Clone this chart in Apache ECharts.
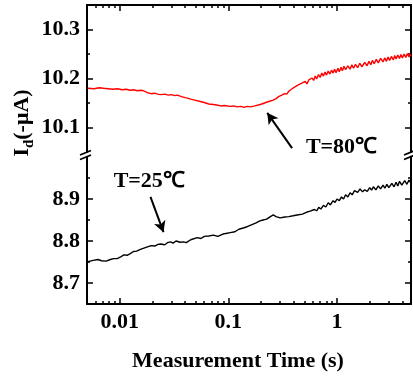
<!DOCTYPE html>
<html>
<head>
<meta charset="utf-8">
<script src="https://cdn.jsdelivr.net/npm/echarts@6/dist/echarts.min.js"></script>
<style>
html,body{margin:0;padding:0;background:#fff;}
#c{width:413px;height:377px;}
</style>
</head>
<body>
<div id="c"></div>
<script>
// ---- data ----
var redTime = [0.0051,0.0058,0.0065,0.0071,0.0078,0.0086,0.0096,0.0105,0.0115,0.0125,0.0134,0.0145,0.0155,0.0166,0.018,0.0195,0.021,0.0223,0.024,0.026,0.028,0.030,0.032,0.034,0.037,0.040,0.042,0.045,0.049,0.0553,0.060,0.066,0.0727,0.078,0.085,0.092,0.104,0.112,0.120,0.130,0.140,0.149,0.160,0.175,0.197,0.215,0.235,0.259,0.275,
  0.29,0.30,0.31,0.32,0.33,0.345,0.36,0.37,0.38,0.394,0.41,0.42,0.44,0.45,0.47,0.49,0.51,0.529,0.55,0.57,0.59,0.61,0.63,0.65,0.675,0.70,0.725,0.75,0.775,0.80,0.83,0.86,0.89,0.92,0.95,0.98,1.02,1.05,1.09,1.12,1.16,1.2,1.26,1.32,1.37,1.42,1.48,1.55,1.62,1.7,1.8,1.89,1.97,2.05,2.12,2.2,2.3,2.4,2.52,2.65,2.75,2.85,2.95,3.05,3.17,3.3,3.4,3.5,3.63,3.76,3.88,4.0,4.15,4.3,4.45,4.6,4.7,4.8];
var redCurrent = [10.180,10.179,10.181,10.180,10.179,10.178,10.179,10.177,10.178,10.176,10.177,10.175,10.176,10.175,10.171,10.169,10.170,10.168,10.167,10.168,10.166,10.167,10.165,10.166,10.163,10.161,10.160,10.158,10.156,10.153,10.151,10.148,10.147,10.146,10.144,10.145,10.143,10.144,10.142,10.143,10.141,10.143,10.142,10.144,10.147,10.150,10.153,10.156,10.159,
  10.163,10.161,10.166,10.163,10.169,10.168,10.174,10.171,10.178,10.175,10.183,10.179,10.187,10.183,10.190,10.186,10.194,10.189,10.197,10.193,10.201,10.196,10.205,10.199,10.208,10.202,10.211,10.205,10.213,10.207,10.215,10.209,10.217,10.211,10.219,10.212,10.221,10.214,10.223,10.216,10.225,10.218,10.226,10.219,10.228,10.221,10.229,10.222,10.231,10.224,10.233,10.226,10.235,10.228,10.237,10.230,10.239,10.232,10.241,10.234,10.242,10.235,10.244,10.237,10.245,10.238,10.247,10.240,10.248,10.241,10.249,10.242,10.250,10.243,10.251,10.244,10.250,10.246];

var blackTime = [0.0051,0.0057,0.0063,0.0068,0.0075,0.0082,0.0088,0.0095,0.0102,0.0109,0.0117,0.0125,0.0134,0.0143,0.0155,0.0167,0.018,0.0195,0.021,0.0225,0.0238,0.026,0.0275,0.0294,0.031,0.033,0.036,0.0386,0.041,0.045,0.0518,0.056,0.060,0.066,0.0727,0.080,0.088,0.095,0.104,0.115,0.125,0.137,0.149,0.165,0.18,0.195,0.209,0.225,0.24,0.259,0.275,0.30,0.33,0.36,0.394,0.43,0.48,
  0.53,0.55,0.566,0.59,0.62,0.65,0.68,0.71,0.75,0.79,0.83,0.87,0.92,0.96,1.0,1.05,1.1,1.15,1.2,1.26,1.32,1.38,1.45,1.55,1.63,1.72,1.8,1.9,2.0,2.08,2.16,2.28,2.4,2.52,2.65,2.76,2.88,3.0,3.2,3.35,3.5,3.63,3.76,3.95,4.2,4.4,4.6,4.8];
var blackCurrent = [8.751,8.754,8.756,8.753,8.752,8.756,8.758,8.758,8.762,8.767,8.766,8.770,8.775,8.776,8.780,8.783,8.786,8.789,8.788,8.792,8.793,8.791,8.796,8.798,8.795,8.800,8.797,8.798,8.796,8.803,8.808,8.806,8.811,8.812,8.814,8.811,8.816,8.818,8.820,8.822,8.828,8.831,8.834,8.839,8.843,8.848,8.850,8.852,8.857,8.862,8.858,8.855,8.857,8.858,8.860,8.862,8.864,
  8.869,8.866,8.871,8.868,8.875,8.872,8.880,8.876,8.885,8.881,8.891,8.886,8.896,8.892,8.900,8.896,8.905,8.900,8.910,8.905,8.915,8.910,8.920,8.916,8.924,8.917,8.922,8.918,8.927,8.921,8.929,8.922,8.931,8.924,8.933,8.926,8.935,8.927,8.937,8.929,8.940,8.931,8.942,8.933,8.944,8.935,8.945,8.938];

var xMajorTicks = [0.01, 0.1, 1];
var xTickLabels = ['0.01', '0.1', '1'];
var xMinorTicks = [0.006,0.007,0.008,0.009,0.02,0.03,0.04,0.05,0.06,0.07,0.08,0.09,0.2,0.3,0.4,0.5,0.6,0.7,0.8,0.9,2,3,4];
var yUpperMajor = [10.1, 10.2, 10.3];
var yUpperMinor = [10.15, 10.25];
var yLowerMajor = [8.7, 8.8, 8.9];
var yLowerMinor = [8.75, 8.85, 8.95];
var xRange = [0.005, 4.8];
var yUpperRange = [10.05, 10.35];
var yLowerRange = [8.65, 9.0];
var label80 = 'T=80℃';
var label25 = 'T=25℃';
var arrow80 = [[0.386, 10.058], [0.228, 10.130]];
var arrow25 = [[0.0192, 8.905], [0.0253, 8.821]];
var text80Pos = [1.10, 10.060];
var text25Pos = [0.0187, 8.943];

// ---- chart ----
var FONT = "'Liberation Serif','Times New Roman',serif";
var chart = echarts.init(document.getElementById('c'), null, {renderer: 'canvas'});

function pairs(xs, ys) { return xs.map(function (x, i) { return [x, ys[i]]; }); }

function xAx(grid, pos, ticks, len, showLine, labels) {
  return {
    type: 'log', gridIndex: grid, position: pos, min: xRange[0], max: xRange[1], logBase: 10,
    axisLine: {show: showLine, onZero: false, lineStyle: {color: '#000', width: 2}},
    axisTick: {show: true, inside: true, length: len, customValues: ticks, lineStyle: {color: '#000', width: 1.5}},
    axisLabel: labels ? {
      show: true, customValues: xMajorTicks, margin: 7,
      formatter: function (v) { var i = xMajorTicks.indexOf(v); return i >= 0 ? xTickLabels[i] : String(v); },
      color: '#000', fontFamily: FONT, fontWeight: 'bold', fontSize: 22
    } : {show: false},
    splitLine: {show: false}, minorTick: {show: false}
  };
}
function yAx(grid, pos, range, ticks, len, showLine, labels) {
  return {
    type: 'value', gridIndex: grid, position: pos, min: range[0], max: range[1],
    axisLine: {show: showLine, onZero: false, lineStyle: {color: '#000', width: 2}},
    axisTick: {show: true, inside: true, length: len, customValues: ticks, lineStyle: {color: '#000', width: 1.5}},
    axisLabel: labels ? {
      show: true, customValues: ticks, margin: 7,
      formatter: function (v) { return v.toFixed(1); },
      color: '#000', fontFamily: FONT, fontWeight: 'bold', fontSize: 22
    } : {show: false},
    splitLine: {show: false}
  };
}

var option = {
  animation: false,
  backgroundColor: '#fff',
  grid: [
    {left: 87, right: 2, top: 5, height: 147},
    {left: 87, right: 2, top: 157, height: 147}
  ],
  xAxis: [
    xAx(0, 'top', xMajorTicks, 6, true, false),
    xAx(1, 'bottom', xMajorTicks, 6, true, true),
    xAx(0, 'top', xMinorTicks, 3, false, false),
    xAx(1, 'bottom', xMinorTicks, 3, false, false)
  ],
  yAxis: [
    yAx(0, 'left', yUpperRange, yUpperMajor, 6, true, true),
    yAx(1, 'left', yLowerRange, yLowerMajor, 6, true, true),
    yAx(0, 'right', yUpperRange, yUpperMajor, 6, true, false),
    yAx(1, 'right', yLowerRange, yLowerMajor, 6, true, false),
    yAx(0, 'left', yUpperRange, yUpperMinor, 3, false, false),
    yAx(1, 'left', yLowerRange, yLowerMinor, 3, false, false),
    yAx(0, 'right', yUpperRange, yUpperMinor, 3, false, false),
    yAx(1, 'right', yLowerRange, yLowerMinor, 3, false, false)
  ],
  series: [
    {
      type: 'line', name: '80C', xAxisIndex: 0, yAxisIndex: 0,
      data: pairs(redTime, redCurrent), showSymbol: false, symbol: 'none',
      lineStyle: {color: '#ff0000', width: 1.4},
      markLine: {
        silent: true, symbol: ['none', 'arrow'], symbolSize: [9, 11],
        lineStyle: {color: '#000', width: 2, type: 'solid'}, label: {show: false},
        data: [[{coord: arrow80[0]}, {coord: arrow80[1]}]]
      },
      markPoint: {
        silent: true, symbol: 'circle', symbolSize: 0,
        label: {show: true, position: 'inside', color: '#000', fontFamily: FONT, fontWeight: 'bold', fontSize: 22, formatter: label80},
        data: [{coord: text80Pos}]
      }
    },
    {
      type: 'line', name: '25C', xAxisIndex: 1, yAxisIndex: 1,
      data: pairs(blackTime, blackCurrent), showSymbol: false, symbol: 'none',
      lineStyle: {color: '#000', width: 1.4},
      markLine: {
        silent: true, symbol: ['none', 'arrow'], symbolSize: [9, 11],
        lineStyle: {color: '#000', width: 2, type: 'solid'}, label: {show: false},
        data: [[{coord: arrow25[0]}, {coord: arrow25[1]}]]
      },
      markPoint: {
        silent: true, symbol: 'circle', symbolSize: 0,
        label: {show: true, position: 'inside', color: '#000', fontFamily: FONT, fontWeight: 'bold', fontSize: 22, formatter: label25},
        data: [{coord: text25Pos}]
      }
    }
  ]
};
chart.setOption(option);

// decorations: axis titles and axis-break marks
var upBottom = chart.convertToPixel({yAxisIndex: 0}, yUpperRange[0]);
var lowTop = chart.convertToPixel({yAxisIndex: 1}, yLowerRange[1]);
var xl = chart.convertToPixel({xAxisIndex: 1}, xRange[0]);
var xr = chart.convertToPixel({xAxisIndex: 1}, xRange[1]);
var midY = (upBottom + lowTop) / 2;
function breakMark(x) {
  return [
    {type: 'line', shape: {x1: x - 7, y1: midY + 0.5, x2: x + 4, y2: midY - 4}, style: {stroke: '#000', lineWidth: 1.8}},
    {type: 'line', shape: {x1: x - 7, y1: midY + 5, x2: x + 4, y2: midY + 0.5}, style: {stroke: '#000', lineWidth: 1.8}}
  ];
}
chart.setOption({
  graphic: [].concat(breakMark(xl), breakMark(xr), [
    {
      type: 'text', x: 238, y: 361,
      style: {text: 'Measurement Time (s)', fill: '#000', font: 'bold 22px ' + FONT, textAlign: 'center', textVerticalAlign: 'middle'}
    },
    {
      type: 'text', x: 21, y: 123, rotation: Math.PI / 2,
      style: {
        text: '{m|I}{s|d}{m|(-μA)}', textAlign: 'center', textVerticalAlign: 'middle',
        rich: {
          m: {fontFamily: FONT, fontWeight: 'bold', fontSize: 22, fill: '#000', lineHeight: 24, verticalAlign: 'bottom'},
          s: {fontFamily: FONT, fontWeight: 'bold', fontSize: 15, fill: '#000', lineHeight: 24, verticalAlign: 'bottom', padding: [0, 0, -4, 0]}
        }
      }
    }
  ])
});
</script>
</body>
</html>
